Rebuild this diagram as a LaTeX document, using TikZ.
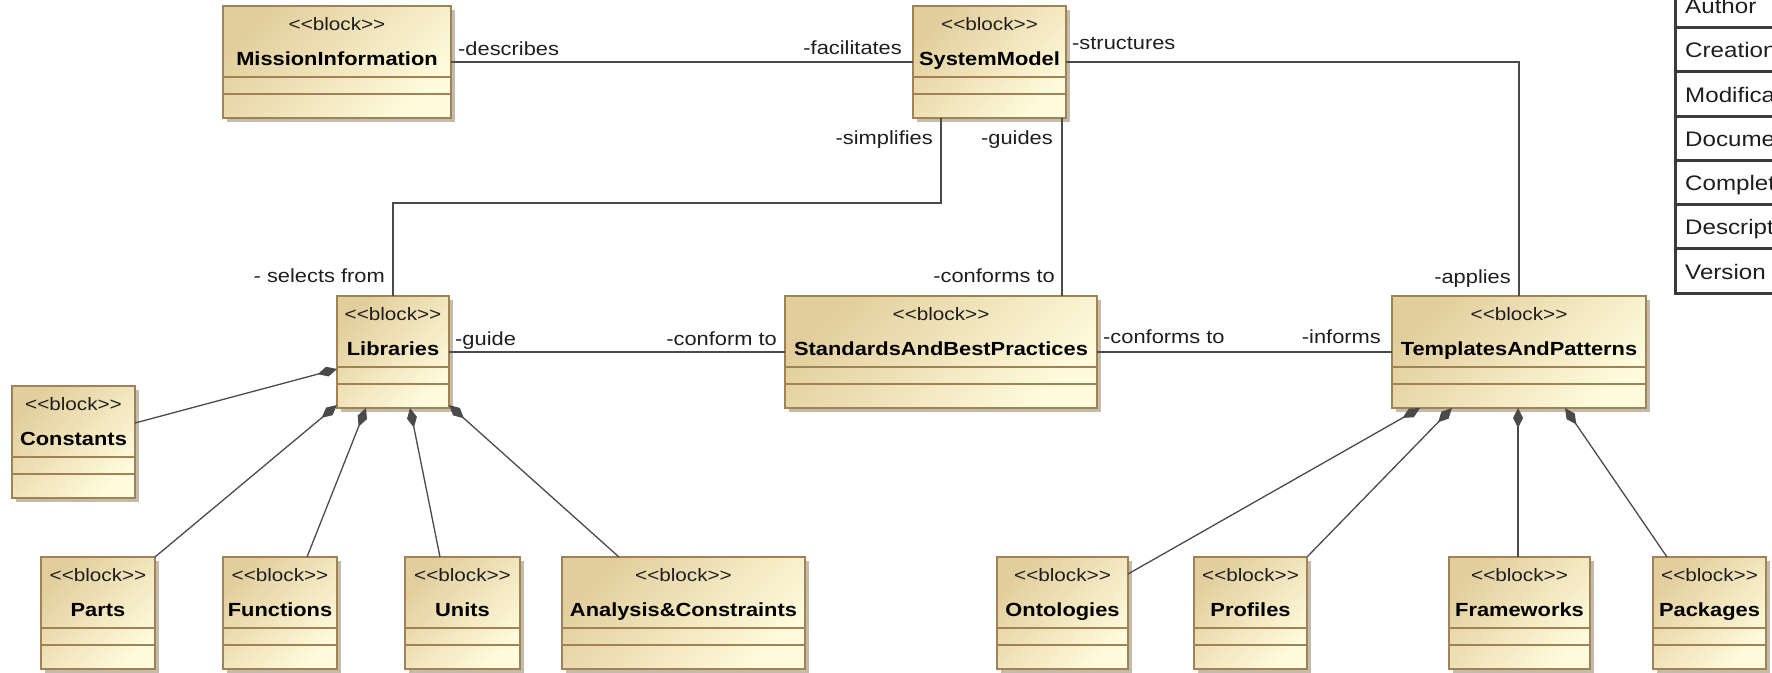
\documentclass[tikz,border=0pt]{standalone}
\usepackage{fontspec}
\setmainfont[FakeStretch=1.15]{Liberation Sans}
\usetikzlibrary{arrows.meta,calc}
\definecolor{boxtan}{HTML}{E2CE9C}
\definecolor{boxcream}{HTML}{FFFBDC}
\definecolor{boxedge}{HTML}{A08255}
\definecolor{shadowc}{HTML}{C2BBB0}
\definecolor{linec}{HTML}{4A4A4A}
\definecolor{txtc}{HTML}{1E1E1E}
\definecolor{tblc}{HTML}{3A3A3A}
\newcommand{\blockst}{<\kern0pt<block>\kern0pt>}
\tikzset{
  blockbox/.style={rectangle, draw=boxedge, line width=1.5pt, top color=boxtan, bottom color=boxcream, shading angle=45, minimum height=112pt, inner sep=0pt, outer sep=0pt},
  compline/.style={draw=boxedge, line width=1.5pt},
  stereotxt/.style={font=\fontsize{18}{20}\selectfont, text=txtc, anchor=base, inner sep=0pt},
  nametxt/.style={font=\fontsize{19}{22}\selectfont\bfseries, text=black, anchor=base, inner sep=0pt},
  lbl/.style={font=\fontsize{19}{22}\selectfont, text=txtc, inner sep=0pt},
  assoc/.style={draw=linec, line width=1.3pt},
  compo/.style={draw=linec, line width=1.3pt, {Diamond[length=20pt,width=10pt]}-},
  tbltxt/.style={font=\fontsize{21}{24}\selectfont, text=txtc, anchor=base west, inner sep=0pt},
  tblline/.style={draw=tblc, line width=3pt},
}
\newcommand{\umlblock}[5]{%
  \fill[shadowc] (#2+4,#3+4) rectangle (#2+#4+4,#3+116);
  \node[blockbox, minimum width=#4pt, anchor=north west] (#1) at (#2,#3) {};
  \draw[compline] ([yshift=-71pt]#1.north west) -- ([yshift=-71pt]#1.north east);
  \draw[compline] ([yshift=-88pt]#1.north west) -- ([yshift=-88pt]#1.north east);
  \node[stereotxt] (#1-st) at ([yshift=-24pt]#1.north) {\blockst};
  \node[nametxt] (#1-nm) at ([yshift=-59pt]#1.north) {#5};
}
\begin{document}
\begin{tikzpicture}[x=1pt,y=-1pt]
\useasboundingbox (0,0) rectangle (1772,672);
\clip (0,0) rectangle (1772,672);
\fill[white] (0,0) rectangle (1772,672);

% blocks
\umlblock{mi}{223}{6}{228}{MissionInformation}
\umlblock{sm}{913}{6}{153}{SystemModel}
\umlblock{lib}{337}{296}{112}{Libraries}
\umlblock{sbp}{785}{296}{312}{StandardsAndBestPractices}
\umlblock{tap}{1392}{296}{254}{TemplatesAndPatterns}
\umlblock{con}{12}{386}{123}{Constants}
\umlblock{parts}{41}{557}{114}{Parts}
\umlblock{func}{223}{557}{114}{Functions}
\umlblock{units}{405}{557}{115}{Units}
\umlblock{ana}{562}{557}{243}{Analysis\&Constraints}
\umlblock{ont}{997}{557}{131}{Ontologies}
\umlblock{prof}{1194}{557}{113}{Profiles}
\umlblock{fw}{1449}{557}{141}{Frameworks}
\umlblock{pkg}{1653}{557}{113}{Packages}

% associations
\draw[assoc] (mi.east) -- (sm.west);
\draw[assoc] (sm.east) -| (tap.north);
\draw[assoc] ([xshift=28pt]sm.south west) -- ++(0,85) -| (lib.north);
\draw[assoc] ([xshift=-4pt]sm.south east) -- ([xshift=-4pt]sm.south east |- sbp.north);
\draw[assoc] (lib.east) -- (sbp.west);
\draw[assoc] (sbp.east) -- (tap.west);

% compositions
\draw[compo] ([yshift=-73pt]lib.north west) -- ([yshift=-37pt]con.north east);
\draw[compo] ([yshift=3pt]lib.south west) -- (parts.north east);
\draw[compo] ([xshift=29pt]lib.south west) -- ([xshift=-30pt]func.north east);
\draw[compo] ([xshift=73pt]lib.south west) -- ([xshift=35pt]units.north west);
\draw[compo] ([yshift=3pt]lib.south east) -- ([xshift=57pt]ana.north west);
\draw[compo] ([xshift=28pt]tap.south west) -- ([yshift=-17pt]ont.north east);
\draw[compo] ([xshift=60pt]tap.south west) -- (prof.north east);
\draw[compo] ([xshift=126pt]tap.south west) -- ([xshift=126pt]tap.south west |- fw.north);
\draw[compo] ([xshift=173pt]tap.south west) -- ([xshift=14pt]pkg.north west);

% role labels
\node[lbl, anchor=base west] (t1) at (458,55) {-describes};
\node[lbl, anchor=base east] (t2) at (902,54) {-facilitates};
\node[lbl, anchor=base west] (t3) at (1072,49) {-structures};
\node[lbl, anchor=base east] (t4) at (1511,283) {-applies};
\node[lbl, anchor=base east] (t5) at (933,144) {-simplifies};
\node[lbl, anchor=base east] (t6) at (1053,144) {-guides};
\node[lbl, anchor=base east] (t7) at (385,282) {- selects from};
\node[lbl, anchor=base east] (t8) at (1055,282) {-conforms to};
\node[lbl, anchor=base west] (t9) at (455,345) {-guide};
\node[lbl, anchor=base east] (t10) at (777,345) {-conform to};
\node[lbl, anchor=base west] (t11) at (1103,343) {-conforms to};
\node[lbl, anchor=base east] (t12) at (1381,343) {-informs};

% diagram info table
\fill[white] (1675,-20) rectangle (1800,293);
\draw[tblline] (1675,-20) -- (1675,293) -- (1800,293);
\foreach \yy in {27,71,116,160,204,248} {\draw[tblline] (1675,\yy) -- (1800,\yy);}
\node[tbltxt] (r1) at (1685,13) {Author};
\node[tbltxt] (r2) at (1685,57) {Creation date};
\node[tbltxt] (r3) at (1685,102) {Modification date};
\node[tbltxt] (r4) at (1685,146) {Documentation};
\node[tbltxt] (r5) at (1685,190) {Completeness};
\node[tbltxt] (r6) at (1685,234) {Description};
\node[tbltxt] (r7) at (1685,279) {Version};
\end{tikzpicture}
\end{document}
